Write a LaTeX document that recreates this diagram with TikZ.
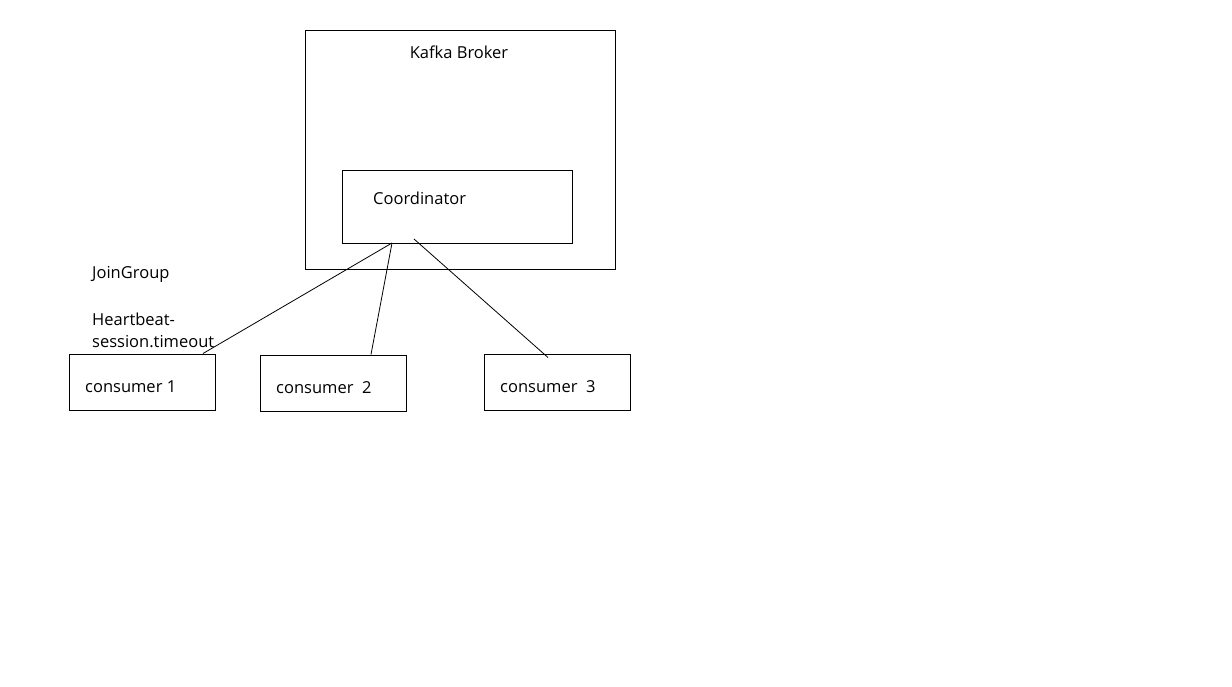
\documentclass[tikz,border=0pt]{standalone}
\usepackage{fontspec}
\setmainfont{Open Sans}
\usepackage{tikz}
\tikzset{
  box/.style={draw, line width=1, minimum width=146, minimum height=56, inner sep=0},
  txt/.style={anchor=west, inner sep=0, font=\fontsize{16.5}{22}\selectfont}
}

\begin{document}
\begin{tikzpicture}[x=1pt, y=-1pt]
  \path (0, 0) rectangle (1232, 686);

  % broker and coordinator
  \node[box, minimum width=310, minimum height=239] (broker) at (460, 149.5) {};
  \node[box, minimum width=230, minimum height=73] (coord) at (457, 206.5) {};
  \node[txt, anchor=center] (brokerlbl) at (459, 52) {Kafka Broker};
  \node[txt] (coordlbl) at (373, 198) {Coordinator};

  % consumers
  \foreach \n/\x/\y/\t in {c1/142/382/consumer 1, c2/333/383/consumer\ \ 2, c3/557/382/consumer\ \ 3} {
    \node[box] (\n) at (\x, \y) {};
    \node[txt] (\n lbl) at (\x - 57, \y + 5) {\t};
  }

  \node[txt] (join) at (92, 274) {JoinGroup};
  \node[txt, align=left] (beat) at (92, 330) {Heartbeat-\\session.timeout};

  % connectors
  \coordinate (j1) at (392, 243);
  \coordinate (j2) at (414, 239);
  \draw[line width=0.8] (j1) -- ([xshift=61]c1.north);
  \draw[line width=0.8] (j1) -- ([xshift=38]c2.north);
  \draw[line width=0.8] (j2) -- ([xshift=-9, yshift=-4]c3.north);

\end{tikzpicture}
\end{document}
